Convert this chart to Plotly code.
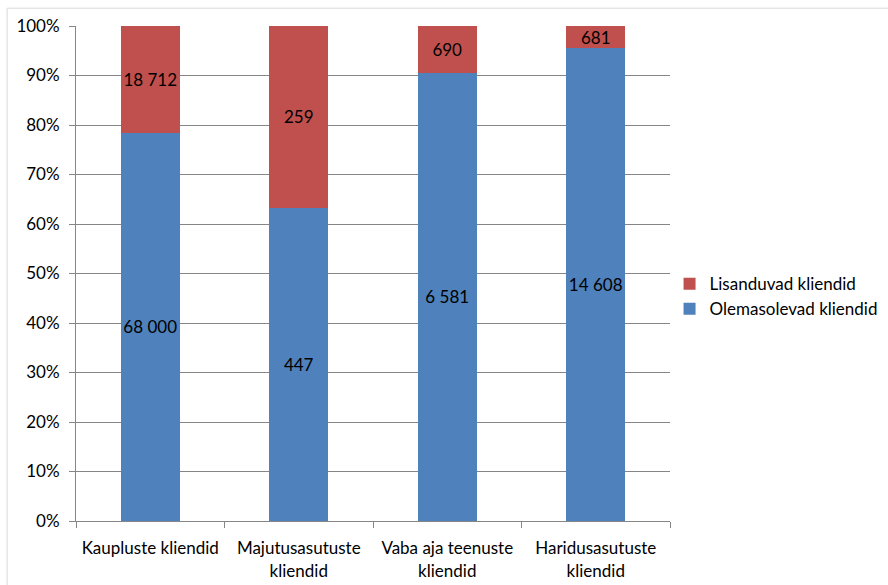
import plotly.graph_objects as go

categories = [
    "Kaupluste kliendid",
    "Majutusasutuste<br>kliendid",
    "Vaba aja teenuste<br>kliendid",
    "Haridusasutuste<br>kliendid",
]
existing = [68000, 447, 6581, 14608]
added = [18712, 259, 690, 681]
y_ticks = list(range(0, 101, 10))
y_labels = [f"{t}%" for t in y_ticks]


def fmt(n):
    return f"{n:,}".replace(",", " ")


FONT = "Lato, Carlito, Calibri, sans-serif"
SIZE = 17

fig = go.Figure()
for vals, name, color in [
    (existing, "Olemasolevad kliendid", "#4F81BD"),
    (added, "Lisanduvad kliendid", "#C0504D"),
]:
    fig.add_trace(
        go.Bar(
            x=categories,
            y=vals,
            name=name,
            marker=dict(color=color, line=dict(width=0)),
            text=[fmt(v) for v in vals],
            textposition="inside",
            insidetextanchor="middle",
            textangle=0,
            constraintext="none",
            textfont=dict(color="black", size=SIZE, family=FONT),
            hoverinfo="skip",
        )
    )

fig.update_layout(
    width=888,
    height=585,
    barmode="stack",
    barnorm="percent",
    bargap=0.6,
    plot_bgcolor="white",
    paper_bgcolor="white",
    font=dict(family=FONT, size=SIZE, color="black"),
    margin=dict(l=76, r=218, t=26, b=64, autoexpand=False),
    uniformtext=dict(minsize=SIZE, mode="show"),
    legend=dict(
        xref="container",
        yref="container",
        x=0.754,
        y=0.545,
        xanchor="left",
        yanchor="top",
        traceorder="reversed",
        font=dict(size=SIZE, family=FONT),
        itemwidth=30,
    ),
    shapes=[
        dict(
            type="rect",
            xref="paper",
            yref="paper",
            x0=-0.116,
            x1=1.6,
            y0=-0.3,
            y1=1.036,
            line=dict(color="#D9D9D9", width=1),
            layer="below",
        )
    ],
)
fig.update_yaxes(
    range=[0, 100],
    tickmode="array",
    tickvals=y_ticks,
    ticktext=y_labels,
    showgrid=True,
    gridcolor="#868686",
    gridwidth=1,
    showline=True,
    linecolor="#868686",
    ticks="outside",
    ticklen=6,
    tickcolor="#868686",
    ticklabelstandoff=6,
    zeroline=False,
    automargin=False,
    tickfont=dict(size=SIZE, family=FONT),
)
fig.update_xaxes(
    showline=True,
    linecolor="#868686",
    ticks="outside",
    tickson="boundaries",
    ticklen=6,
    tickcolor="#868686",
    ticklabelstandoff=12,
    showgrid=False,
    tickangle=0,
    automargin=False,
    tickfont=dict(size=SIZE, family=FONT),
)

fig.write_html(
    "out.html",
    config={"displayModeBar": False},
    post_script="document.body.style.margin='0';",
)
